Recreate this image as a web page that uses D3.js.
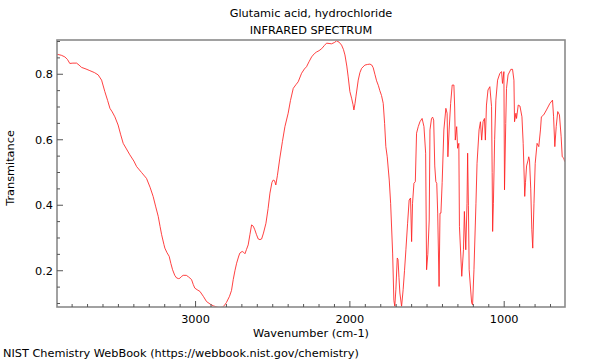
<!DOCTYPE html>
<html><head><meta charset="utf-8">
<script src="https://cdn.jsdelivr.net/npm/d3@7"></script>
<style>
body{margin:0;background:#fff;}
text{font-family:"DejaVu Sans",sans-serif;fill:#000;}
</style></head>
<body><svg id="c" width="600" height="360"></svg>
<script>
const titleLines = ["Glutamic acid, hydrochloride", "INFRARED SPECTRUM"];
const xLabel = "Wavenumber (cm-1)";
const yLabel = "Transmitance";
const footer = "NIST Chemistry WebBook (https://webbook.nist.gov/chemistry)";
const xTickLabels = [3000, 2000, 1000];
const yTickLabels = [0.2, 0.4, 0.6, 0.8];

const wavenumber = [3898,3870,3847,3830,3815,3795,3771,3755,3739,3710,3685,3655,3631,3609,3588,3570,3555,3540,3523,3502,3485,3469,3448,3426,3400,3382,3350,3318,3295,3275,3258,3242,3230,3220,3205,3199,3185,3171,3160,3149,3135,3123,3110,3102,3090,3080,3060,3045,3026,3015,3005,2990,2972,2950,2929,2905,2886,2860,2843,2825,2815,2800,2780,2767,2756,2745,2734,2720,2713,2698,2688,2680,2670,2659,2648,2637,2626,2616,2605,2594,2583,2572,2560,2544,2530,2518,2505,2497,2488,2480,2470,2454,2437,2421,2400,2385,2367,2350,2335,2313,2295,2281,2265,2248,2230,2216,2200,2183,2165,2151,2135,2119,2100,2086,2070,2054,2042,2032,2020,2011,2000,1989,1980,1974,1967,1961,1946,1935,1924,1903,1885,1870,1858,1849,1838,1827,1815,1806,1795,1784,1775,1767,1758,1745,1736,1723,1715,1709,1702,1693,1688,1682,1676,1665,1655,1646,1637,1626,1616,1607,1600,1594,1585,1576,1568,1557,1546,1532,1520,1509,1503,1495,1486,1481,1471,1464,1457,1450,1443,1437,1431,1422,1416,1410,1402,1391,1378,1370,1365,1357,1347,1337,1326,1321,1317,1308,1302,1294,1290,1275,1264,1258,1249,1241,1237,1232,1227,1211,1205,1196,1183,1176,1163,1154,1146,1137,1128,1122,1115,1105,1093,1082,1078,1075,1070,1062,1054,1043,1028,1017,1011,1002,998,990,985,975,957,946,937,933,924,920,909,898,885,877,870,867,862,855,845,841,836,828,821,815,807,799,787,776,765,759,744,726,704,687,680,672,663,653,642,631,624,614,608];
const transmittance = [0.861,0.858,0.853,0.845,0.833,0.834,0.834,0.828,0.821,0.816,0.811,0.805,0.798,0.782,0.747,0.720,0.696,0.685,0.670,0.645,0.615,0.589,0.572,0.554,0.535,0.518,0.500,0.482,0.455,0.427,0.395,0.366,0.335,0.310,0.280,0.269,0.255,0.244,0.222,0.203,0.186,0.178,0.176,0.177,0.183,0.186,0.186,0.181,0.173,0.158,0.147,0.142,0.137,0.122,0.106,0.098,0.093,0.089,0.087,0.089,0.093,0.103,0.122,0.140,0.173,0.200,0.223,0.245,0.254,0.259,0.256,0.252,0.265,0.279,0.310,0.340,0.336,0.325,0.310,0.297,0.295,0.297,0.315,0.345,0.390,0.437,0.470,0.477,0.475,0.462,0.490,0.544,0.595,0.640,0.681,0.720,0.757,0.768,0.777,0.803,0.816,0.823,0.838,0.853,0.863,0.868,0.872,0.878,0.888,0.895,0.894,0.893,0.897,0.902,0.898,0.889,0.876,0.859,0.825,0.792,0.747,0.727,0.708,0.691,0.710,0.731,0.782,0.805,0.818,0.828,0.830,0.831,0.828,0.820,0.800,0.780,0.765,0.750,0.735,0.711,0.650,0.579,0.548,0.477,0.406,0.254,0.110,0.091,0.142,0.239,0.234,0.180,0.132,0.091,0.142,0.200,0.264,0.345,0.416,0.422,0.289,0.406,0.467,0.472,0.620,0.640,0.655,0.665,0.640,0.559,0.203,0.250,0.355,0.630,0.665,0.669,0.660,0.520,0.472,0.467,0.376,0.152,0.376,0.376,0.470,0.630,0.696,0.681,0.548,0.630,0.711,0.767,0.767,0.700,0.599,0.640,0.574,0.589,0.335,0.183,0.264,0.381,0.264,0.406,0.559,0.400,0.203,0.102,0.096,0.203,0.406,0.528,0.630,0.655,0.599,0.655,0.665,0.599,0.706,0.752,0.762,0.701,0.500,0.320,0.406,0.600,0.721,0.782,0.803,0.808,0.772,0.808,0.447,0.650,0.757,0.798,0.815,0.815,0.782,0.655,0.681,0.665,0.706,0.703,0.670,0.589,0.480,0.427,0.470,0.520,0.538,0.548,0.538,0.450,0.325,0.269,0.406,0.528,0.589,0.579,0.630,0.670,0.676,0.691,0.711,0.721,0.670,0.579,0.640,0.686,0.676,0.609,0.548,0.544,0.533];

const L = 57, R = 565, T = 40, B = 307;
const FS = 11.3;
const svg = d3.select("#c");
const x = d3.scaleLinear().domain([3898, 606]).range([L, R]);
const y = d3.scaleLinear().domain([0.0893, 0.9046]).range([B, T]);

// title
svg.selectAll("text.title").data(titleLines).enter().append("text")
  .attr("x", (L+R)/2).attr("y", (d,i)=>17+i*16.5).attr("text-anchor","middle")
  .attr("font-size", FS).text(d=>d);

// data line
svg.append("clipPath").attr("id","clip").append("rect")
  .attr("x",L).attr("y",T).attr("width",R-L).attr("height",B-T);
const pts = wavenumber.map((w,i)=>[w, transmittance[i]]);
svg.append("path").attr("clip-path","url(#clip)")
  .attr("d", d3.line().x(d=>x(d[0])).y(d=>y(d[1]))(pts))
  .attr("fill","none").attr("stroke","#ff2020").attr("stroke-width",1).attr("stroke-opacity",0.85);

// frame
svg.append("rect").attr("x",L).attr("y",T).attr("width",R-L).attr("height",B-T)
  .attr("fill","none").attr("stroke","#8a8a8a").attr("stroke-width",1.6);

// x ticks (inward)
const xMinor = d3.range(700, 3900, 100);
svg.selectAll("line.xt").data(xMinor).enter().append("line")
  .attr("x1",d=>x(d)).attr("x2",d=>x(d))
  .attr("y1",B).attr("y2",d=>xTickLabels.includes(d)?B-6:B-3)
  .attr("stroke","#555").attr("stroke-width",1);
svg.selectAll("text.xl").data(xTickLabels).enter().append("text")
  .attr("x",d=>x(d)).attr("y",323).attr("text-anchor","middle").attr("font-size",FS).text(d=>d);
svg.append("text").attr("x",(L+R)/2).attr("y",337).attr("text-anchor","middle")
  .attr("font-size",FS).text(xLabel);

// y ticks (inward)
const yMinor = d3.range(0.1, 0.91, 0.05);
svg.selectAll("line.yt").data(yMinor).enter().append("line")
  .attr("x1",L).attr("x2",d=>yTickLabels.some(v=>Math.abs(v-d)<1e-6)?L+6:L+3)
  .attr("y1",d=>y(d)).attr("y2",d=>y(d))
  .attr("stroke","#555").attr("stroke-width",1);
svg.selectAll("text.yl").data(yTickLabels).enter().append("text")
  .attr("x",53).attr("y",d=>y(d)+4.2).attr("text-anchor","end").attr("font-size",FS)
  .text(d=>d.toFixed(1));
svg.append("text").attr("transform","translate(14,168) rotate(-90)").attr("text-anchor","middle")
  .attr("font-size",FS).text(yLabel);

svg.append("text").attr("x",3).attr("y",357).attr("font-size",FS).text(footer);
</script></body></html>
